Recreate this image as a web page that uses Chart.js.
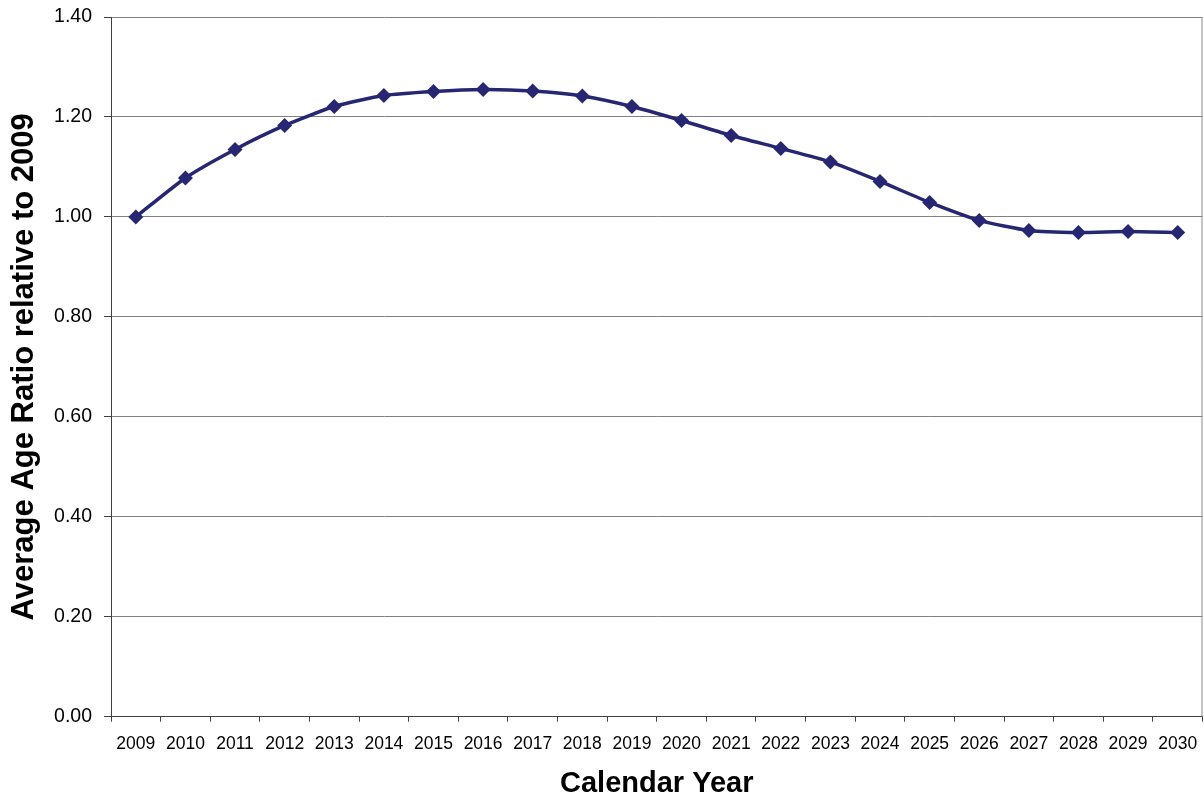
<!DOCTYPE html>
<html>
<head>
<meta charset="utf-8">
<title>Average Age Ratio relative to 2009</title>
<script src="https://cdn.jsdelivr.net/npm/chart.js@4/dist/chart.umd.min.js"></script>
<style>
  html, body { margin: 0; padding: 0; background: #ffffff; }
  #wrap { width: 1204px; height: 796px; }
</style>
</head>
<body>
<div id="wrap"><canvas id="chart" width="1204" height="796"></canvas></div>
<script>
// Calendar years on the x axis
const years = ['2009','2010','2011','2012','2013','2014','2015','2016','2017','2018','2019',
               '2020','2021','2022','2023','2024','2025','2026','2027','2028','2029','2030'];

// Average age ratio, indexed to 2009 = 1.00
const ageRatio = [1.000, 1.078, 1.135, 1.183, 1.221, 1.243, 1.251, 1.255, 1.252, 1.242, 1.221,
                  1.193, 1.163, 1.137, 1.110, 1.071, 1.029, 0.993, 0.973, 0.969, 0.971, 0.969];

// Value axis range
const yMin = 0;
const yMax = 1.4;
const yStep = 0.2;

const FONT = "'Liberation Sans', Arial, sans-serif";
const LINE_COLOR = '#262672';

// Thin grey frame line on the right edge of the plot area
const rightBorder = {
  id: 'rightBorder',
  afterDraw(chart) {
    const { ctx, chartArea } = chart;
    ctx.save();
    ctx.strokeStyle = '#8c8c8c';
    ctx.lineWidth = 1;
    ctx.beginPath();
    ctx.moveTo(chartArea.right - 0.5, chartArea.top);
    ctx.lineTo(chartArea.right - 0.5, chartArea.bottom);
    ctx.stroke();
    ctx.restore();
  }
};

new Chart(document.getElementById('chart'), {
  type: 'line',
  data: {
    labels: years,
    datasets: [{
      data: ageRatio,
      borderColor: LINE_COLOR,
      backgroundColor: LINE_COLOR,
      borderWidth: 3.5,
      tension: 0.2,
      pointStyle: 'rectRot',
      pointRadius: 7.5,
      pointHoverRadius: 7.5,
      pointBorderWidth: 0,
      pointBackgroundColor: LINE_COLOR,
      fill: false
    }]
  },
  options: {
    responsive: false,
    animation: false,
    layout: { autoPadding: false, padding: { left: 0, top: 17, right: 1.5, bottom: 0 } },
    plugins: {
      legend: { display: false },
      tooltip: { enabled: false }
    },
    scales: {
      x: {
        type: 'category',
        offset: true,
        grid: {
          offset: true,
          drawOnChartArea: false,
          drawTicks: true,
          tickLength: 5,
          color: '#404040'
        },
        border: { color: '#404040', width: 1 },
        ticks: {
          color: '#000000',
          font: { family: FONT, size: 17.5 },
          padding: 12,
          maxRotation: 0,
          autoSkip: false
        },
        title: {
          display: true,
          text: 'Calendar Year',
          color: '#000000',
          font: { family: FONT, size: 29, weight: 'bold', lineHeight: 1 },
          padding: { top: 0, bottom: -2 }
        },
        afterFit(scale) {
          scale.height = 79.3;
          scale.paddingLeft = 0;
          scale.paddingRight = 0;
        }
      },
      y: {
        min: yMin,
        max: yMax,
        grid: {
          color: '#808080',
          lineWidth: 1,
          drawTicks: true,
          tickLength: 7,
          tickColor: '#404040'
        },
        border: { color: '#404040', width: 1 },
        ticks: {
          stepSize: yStep,
          color: '#000000',
          font: { family: FONT, size: 19.5 },
          padding: 12,
          callback: (v) => Number(v).toFixed(2)
        },
        title: {
          display: true,
          text: 'Average Age Ratio relative to 2009',
          color: '#000000',
          font: { family: FONT, size: 31, weight: 'bold' },
          padding: { top: 6, bottom: 0 }
        },
        afterFit(scale) {
          scale.width = 111;
          scale.paddingTop = 0;
          scale.paddingBottom = 0;
        }
      }
    }
  },
  plugins: [rightBorder]
});
</script>
</body>
</html>
